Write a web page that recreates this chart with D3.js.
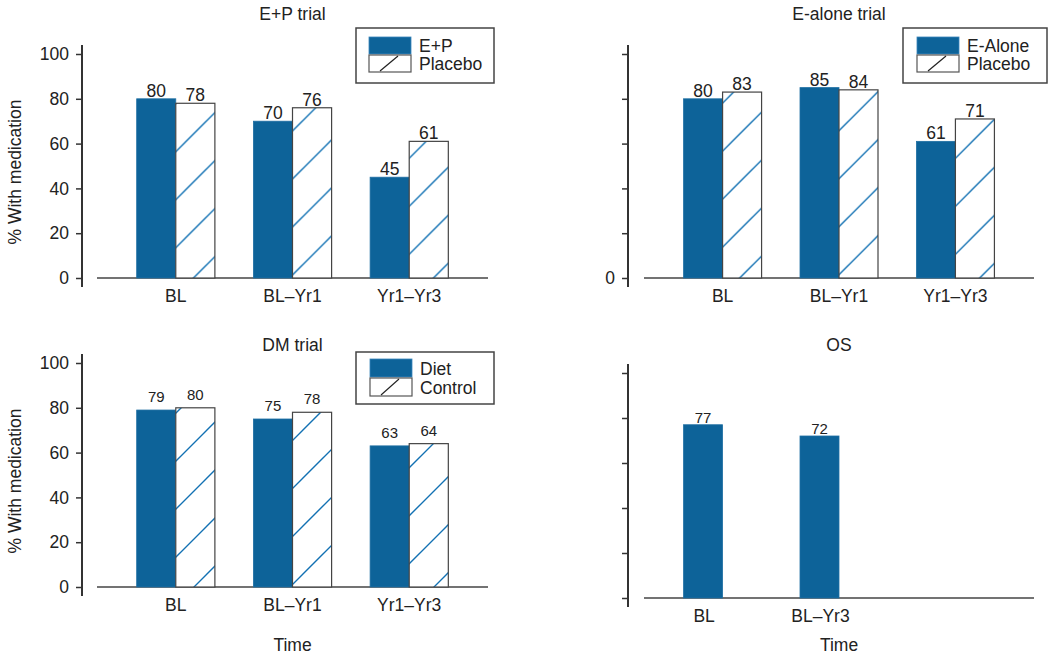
<!DOCTYPE html>
<html>
<head>
<meta charset="utf-8">
<script src="https://cdn.jsdelivr.net/npm/d3@7"></script>
<style>
  html, body { margin: 0; padding: 0; background: #fff; }
  svg { display: block; font-family: "Liberation Sans", Arial, sans-serif; }
</style>
</head>
<body>
<svg id="chart" width="1050" height="654"></svg>
<script>
// ---------- data ----------
const categories = ["BL", "BL\u2013Yr1", "Yr1\u2013Yr3"];
const epActive = [80, 70, 45];
const epPlacebo = [78, 76, 61];
const eaActive = [80, 85, 61];
const eaPlacebo = [83, 84, 71];
const dmDiet = [79, 75, 63];
const dmControl = [80, 78, 64];
const osCategories = ["BL", "BL\u2013Yr3", ""];
const osValues = [77, 72];
const yTicks = [0, 20, 40, 60, 80, 100];
const yLabel = "% With medication";
const xLabel = "Time";

// ---------- style ----------
const DARK = "#0d6399";
const HATCH = "#1271b3";
const AXIS = "#333";
const FONT = 17.5;

const svg = d3.select("#chart");
const defs = svg.append("defs");

const panels = [
  { id: "ep", title: "E+P trial", cats: categories, a: epActive, b: epPlacebo,
    names: ["E+P", "Placebo"], axisX: 82, x0: 97, x1: 488, y0: 278, y100: 54, titleY: 20,
    tickLabels: "all", legend: { x: 356, y: 28, w: 138, h: 55, sx: 13, sy: 9, sh: 17 },
    hatchOff: 39.5, valueFont: FONT, valueGap: 2, yLabel: true, xLabel: false },
  { id: "ea", title: "E-alone trial", cats: categories, a: eaActive, b: eaPlacebo,
    names: ["E-Alone", "Placebo"], axisX: 628, x0: 644, x1: 1034, y0: 278, y100: 54, titleY: 20,
    tickLabels: "zero", legend: { x: 903, y: 28, w: 144, h: 55, sx: 14, sy: 9, sh: 17 },
    hatchOff: 9.7, valueFont: FONT, valueGap: 2, yLabel: false, xLabel: false },
  { id: "dm", title: "DM trial", cats: categories, a: dmDiet, b: dmControl,
    names: ["Diet", "Control"], axisX: 82, x0: 97, x1: 488, y0: 587, y100: 363, titleY: 351,
    tickLabels: "all", legend: { x: 356, y: 352, w: 138, h: 52, sx: 14, sy: 7, sh: 18 },
    hatchOff: 13, valueFont: 15, valueGap: 8, yLabel: true, xLabel: true },
  { id: "os", title: "OS", cats: osCategories, a: osValues, b: null,
    names: null, axisX: 628, x0: 644, x1: 1034, y0: 598, y100: 373, titleY: 351,
    tickLabels: "none", legend: null,
    hatchOff: 0, valueFont: 15, valueGap: 2, yLabel: false, xLabel: true }
];

panels.forEach(p => {
  const g = svg.append("g");
  const y = d3.scaleLinear().domain([0, 100]).range([p.y0, p.y100]);
  const x = d3.scalePoint().domain(p.cats).range([p.x0, p.x1]).padding(0.675);
  const barW = x.step() * 0.335;
  const cx = (p.x0 + p.x1) / 2;

  // hatch pattern
  const pat = defs.append("pattern").attr("id", "hatch-" + p.id)
    .attr("patternUnits", "userSpaceOnUse").attr("width", 48).attr("height", 48)
    .attr("x", p.hatchOff).attr("y", 0);
  pat.append("rect").attr("width", 48).attr("height", 48).attr("fill", "#fff");
  pat.append("path").attr("d", "M-12,12 L12,-12 M0,48 L48,0 M36,60 L60,36")
    .attr("stroke", HATCH).attr("stroke-width", 1.4);

  // title
  g.append("text").attr("x", cx).attr("y", p.titleY).attr("text-anchor", "middle")
    .attr("font-size", FONT).attr("fill", "#222").text(p.title);

  // y axis
  const ax = d3.axisLeft(y).tickValues(yTicks).tickSize(6).tickPadding(7)
    .tickFormat(d => p.tickLabels === "all" ? d : (p.tickLabels === "zero" && d === 0 ? d : ""));
  const ag = g.append("g").attr("transform", `translate(${p.axisX},0)`).call(ax);
  ag.select(".domain").remove();
  ag.selectAll(".tick line").attr("stroke", AXIS).attr("stroke-width", 1.5);
  ag.selectAll(".tick text").attr("font-size", FONT).attr("fill", "#222")
    .attr("font-family", "Liberation Sans, Arial, sans-serif");
  g.append("line").attr("x1", p.axisX).attr("x2", p.axisX)
    .attr("y1", y(104)).attr("y2", y(-4)).attr("stroke", AXIS).attr("stroke-width", 2);

  // baseline
  g.append("line").attr("x1", p.x0).attr("x2", p.x1).attr("y1", y(0)).attr("y2", y(0))
    .attr("stroke", "#444").attr("stroke-width", 1.5);

  // bars
  const nA = p.a.length;
  const activeData = p.a.map((v, i) => ({ c: p.cats[i], v }));
  g.selectAll(".barA").data(activeData).enter().append("rect")
    .attr("x", d => x(d.c) - barW).attr("width", barW)
    .attr("y", d => y(d.v)).attr("height", d => y(0) - y(d.v))
    .attr("fill", DARK).attr("stroke", "#1f6fa3").attr("stroke-width", 0.8);
  g.selectAll(".valA").data(activeData).enter().append("text")
    .attr("x", d => x(d.c) - barW / 2).attr("y", d => y(d.v) - p.valueGap)
    .attr("text-anchor", "middle").attr("font-size", p.valueFont).attr("fill", "#222")
    .text(d => d.v);

  if (p.b) {
    const plData = p.b.map((v, i) => ({ c: p.cats[i], v }));
    g.selectAll(".barB").data(plData).enter().append("rect")
      .attr("x", d => x(d.c)).attr("width", barW)
      .attr("y", d => y(d.v)).attr("height", d => y(0) - y(d.v))
      .attr("fill", `url(#hatch-${p.id})`).attr("stroke", "#444").attr("stroke-width", 1.2);
    g.selectAll(".valB").data(plData).enter().append("text")
      .attr("x", d => x(d.c) + barW / 2).attr("y", d => y(d.v) - p.valueGap)
      .attr("text-anchor", "middle").attr("font-size", p.valueFont).attr("fill", "#222")
      .text(d => d.v);
  }

  // category labels
  const labCats = p.b ? p.cats : p.cats.slice(0, nA);
  g.selectAll(".cat").data(labCats).enter().append("text")
    .attr("x", d => p.b ? x(d) : x(d) - barW / 2 + 1)
    .attr("y", y(0) + 24).attr("text-anchor", "middle")
    .attr("font-size", FONT).attr("fill", "#222").text(d => d);

  // y label
  if (p.yLabel) {
    g.append("text").attr("transform", `translate(21,${(y(0) + y(100)) / 2 + 6}) rotate(-90)`)
      .attr("text-anchor", "middle").attr("font-size", FONT).attr("fill", "#222").text(yLabel);
  }
  if (p.xLabel) {
    g.append("text").attr("x", cx).attr("y", 651).attr("text-anchor", "middle")
      .attr("font-size", FONT).attr("fill", "#222").text(xLabel);
  }

  // legend
  if (p.legend) {
    const L = p.legend;
    const lg = g.append("g").attr("transform", `translate(${L.x},${L.y})`);
    lg.append("rect").attr("width", L.w).attr("height", L.h)
      .attr("fill", "#fff").attr("stroke", "#444").attr("stroke-width", 1.5);
    const sw = 42;
    lg.append("rect").attr("x", L.sx).attr("y", L.sy).attr("width", sw).attr("height", L.sh)
      .attr("fill", DARK).attr("stroke", "#3a86bb").attr("stroke-width", 0.8);
    lg.append("rect").attr("x", L.sx).attr("y", L.sy + L.sh + 1).attr("width", sw).attr("height", L.sh)
      .attr("fill", "#fff").attr("stroke", "#555").attr("stroke-width", 1.2);
    lg.append("line")
      .attr("x1", L.sx + 11).attr("y1", L.sy + 2 * L.sh)
      .attr("x2", L.sx + 29).attr("y2", L.sy + L.sh + 2)
      .attr("stroke", "#222").attr("stroke-width", 1.2);
    lg.selectAll(".lt").data(p.names).enter().append("text")
      .attr("x", L.sx + sw + 8)
      .attr("y", (d, i) => L.sy + L.sh * (i + 0.5) + i + 6.5)
      .attr("font-size", FONT).attr("fill", "#222").text(d => d);
  }
});
</script>
</body>
</html>
